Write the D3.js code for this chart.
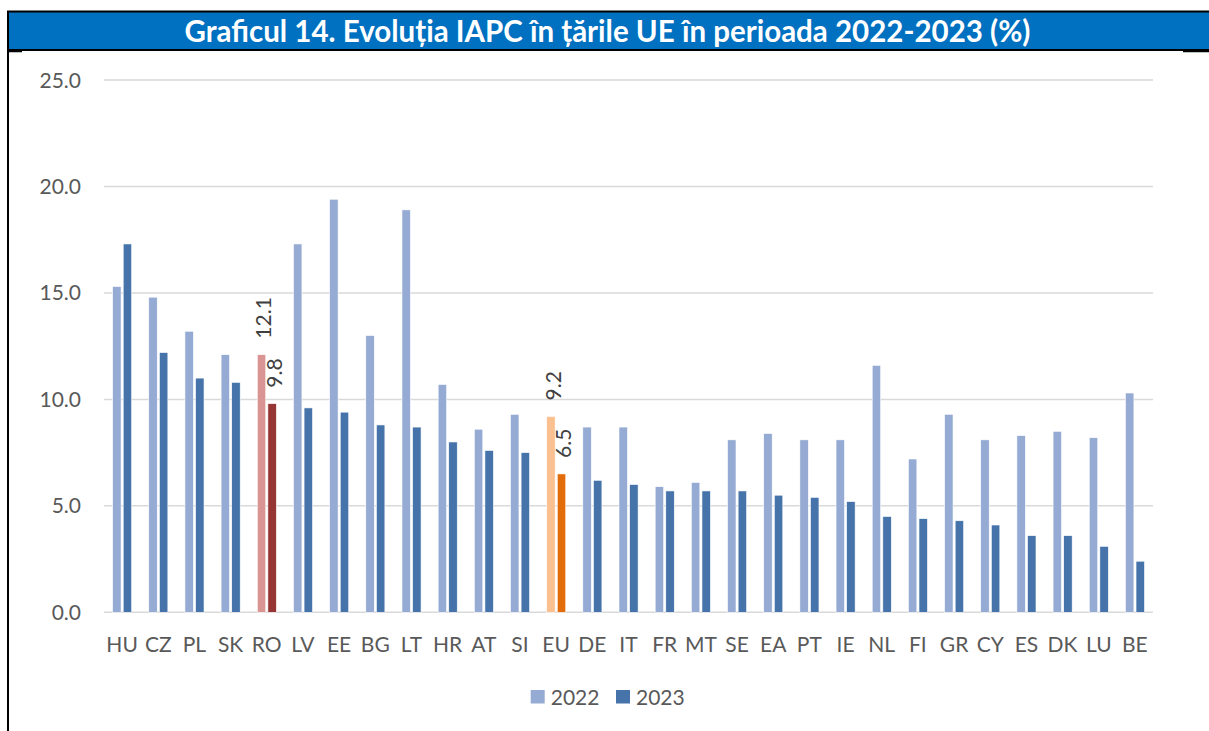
<!DOCTYPE html>
<html>
<head>
<meta charset="utf-8">
<script src="https://cdn.jsdelivr.net/npm/d3@7"></script>
<style>
  body { margin: 0; background: #fff; }
  svg { display: block; }
</style>
</head>
<body>
<div id="chart"></div>
<script>
// data
const countries = ["HU","CZ","PL","SK","RO","LV","EE","BG","LT","HR","AT","SI","EU","DE","IT","FR","MT","SE","EA","PT","IE","NL","FI","GR","CY","ES","DK","LU","BE"];
const values2022 = [15.3,14.8,13.2,12.1,12.1,17.3,19.4,13.0,18.9,10.7,8.6,9.3,9.2,8.7,8.7,5.9,6.1,8.1,8.4,8.1,8.1,11.6,7.2,9.3,8.1,8.3,8.5,8.2,10.3];
const values2023 = [17.3,12.2,11.0,10.8,9.8,9.6,9.4,8.8,8.7,8.0,7.6,7.5,6.5,6.2,6.0,5.7,5.7,5.7,5.5,5.4,5.2,4.5,4.4,4.3,4.1,3.6,3.6,3.1,2.4];
const seriesNames = ["2022","2023"];
const yTicks = [0,5,10,15,20,25];
const labelled = ["RO","EU"];
const title = "Graficul 14. Evoluția IAPC în țările UE în perioada 2022-2023 (%)";

const W = 1209, H = 731;
const plot = {left: 104, right: 1153, top: 80, bottom: 612.3};
const font = "Lato, 'Open Sans', sans-serif";

const colors = {"2022": "#95ABD3", "2023": "#4674AA"};
const special = {
  RO: {"2022": "#D99594", "2023": "#963634"},
  EU: {"2022": "#FAC090", "2023": "#E36C0A"}
};

const svg = d3.select("#chart")
  .append("svg")
  .attr("width", W)
  .attr("height", H);

svg.append("rect").attr("width", W).attr("height", H).attr("fill", "#fff");

// title band
svg.append("rect")
  .attr("x", 8).attr("y", 11.5)
  .attr("width", W).attr("height", 38.5)
  .attr("fill", "#0070C0")
  .attr("stroke", "#000")
  .attr("stroke-width", 2);
svg.append("line")
  .attr("x1", 8).attr("x2", 8).attr("y1", 11).attr("y2", H)
  .attr("stroke", "#000").attr("stroke-width", 2);
svg.append("line")
  .attr("x1", 8).attr("x2", 22).attr("y1", 51.5).attr("y2", 51.5)
  .attr("stroke", "#000").attr("stroke-width", 1.5);
svg.append("line")
  .attr("x1", 1183).attr("x2", W).attr("y1", 51.5).attr("y2", 51.5)
  .attr("stroke", "#000").attr("stroke-width", 1.5);
svg.append("text")
  .attr("x", 607.5).attr("y", 41.5)
  .attr("text-anchor", "middle")
  .style("font-family", font)
  .style("font-weight", "bold")
  .style("font-size", "29.5px")
  .attr("fill", "#fff")
  .text(title);

// scales
const y = d3.scaleLinear()
  .domain([0, 25])
  .range([plot.bottom, plot.top]);

const x0 = d3.scaleBand()
  .domain(countries)
  .range([plot.left, plot.right])
  .padding(0);

const bw = x0.bandwidth();
const x1 = d3.scaleBand()
  .domain(seriesNames)
  .range([bw / 2 - 9.5, bw / 2 + 9.6])
  .paddingInner(0.2);

// gridlines + y labels
svg.append("g")
  .selectAll("line")
  .data(yTicks)
  .join("line")
    .attr("x1", plot.left)
    .attr("x2", plot.right)
    .attr("y1", d => y(d))
    .attr("y2", d => y(d))
    .attr("stroke", "#D9D9D9")
    .attr("stroke-width", 1.5);

svg.append("g")
  .selectAll("text")
  .data(yTicks)
  .join("text")
    .attr("x", 81)
    .attr("y", d => y(d) + 7.5)
    .attr("text-anchor", "end")
    .style("font-family", font)
    .style("font-size", "21px")
    .attr("fill", "#595959")
    .text(d => d3.format(".1f")(d));

// bars
const rows = countries.map((c, i) => ({country: c, "2022": values2022[i], "2023": values2023[i]}));

const groups = svg.append("g")
  .selectAll("g")
  .data(rows)
  .join("g")
    .attr("transform", d => `translate(${x0(d.country)},0)`);

groups.selectAll("rect")
  .data(d => seriesNames.map(s => ({country: d.country, series: s, value: d[s]})))
  .join("rect")
    .attr("x", d => x1(d.series))
    .attr("width", x1.bandwidth())
    .attr("y", d => y(d.value))
    .attr("height", d => y(0) - y(d.value))
    .attr("fill", d => special[d.country] ? special[d.country][d.series] : colors[d.series])
    .attr("stroke", "#fff")
    .attr("stroke-width", 0.6);

// data labels (rotated) for RO and EU
groups.filter(d => labelled.includes(d.country))
  .selectAll("text")
  .data(d => seriesNames.map(s => ({series: s, value: d[s]})))
  .join("text")
    .attr("transform", d => `translate(${x1(d.series) + x1.bandwidth() / 2 + 9.8},${y(d.value) - 16}) rotate(-90)`)
    .style("font-family", font)
    .style("font-size", "21px")
    .attr("fill", "#404040")
    .text(d => d3.format(".1f")(d.value));

// category labels
svg.append("g")
  .selectAll("text")
  .data(countries)
  .join("text")
    .attr("x", d => x0(d) + bw / 2)
    .attr("y", 651.5)
    .attr("text-anchor", "middle")
    .style("font-family", font)
    .style("font-size", "21px")
    .attr("fill", "#595959")
    .text(d => d);

// legend
const legendX = [530.7, 616];
const legend = svg.append("g")
  .selectAll("g")
  .data(seriesNames)
  .join("g")
    .attr("transform", (d, i) => `translate(${legendX[i]},690)`);
legend.append("rect")
  .attr("width", 14)
  .attr("height", 13.5)
  .attr("fill", d => colors[d]);
legend.append("text")
  .attr("x", 20)
  .attr("y", 14.5)
  .style("font-family", font)
  .style("font-size", "21px")
  .attr("fill", "#595959")
  .text(d => d);
</script>
</body>
</html>
